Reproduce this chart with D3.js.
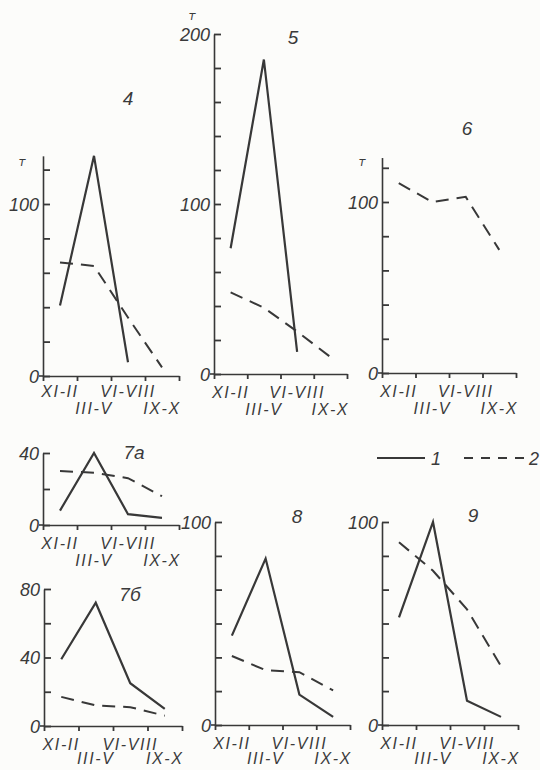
<!DOCTYPE html>
<html>
<head>
<meta charset="utf-8">
<script src="https://cdn.jsdelivr.net/npm/d3@7"></script>
<style>
  body { margin: 0; background: #fcfcfa; }
  svg text { font-family: "Liberation Sans Narrow", "Liberation Sans", sans-serif; font-style: italic; fill: #3a3a3a; }
</style>
</head>
<body>
<svg id="chart" width="540" height="770"></svg>
<script>
// categories (periods of the year)
var categories = ["XI-II", "III-V", "VI-VIII", "IX-X"];

// series 1 (solid) and 2 (dashed), tonnes
var p4Solid  = [41, 128, 8, null];
var p4Dashed = [66, 64, 34, 5];
var p5Solid  = [74, 185, 13, null];
var p5Dashed = [48, 39, 25, 10];
var p6Solid  = [null, null, null, null];
var p6Dashed = [111, 100, 103, 72];
var p7aSolid  = [8, 40, 6, 4];
var p7aDashed = [30, 29, 26, 16];
var p7bSolid  = [39, 72, 25, 10];
var p7bDashed = [17, 12, 11, 6];
var p8Solid  = [44, 82, 15, 4];
var p8Dashed = [34, 27, 26, 17];
var p9Solid  = [53, 100, 12, 4];
var p9Dashed = [90, 76, 57, 29];

// y ticks and labelled values
var ticks4 = [0, 20, 40, 60, 80, 100, 120],            labels4 = [0, 100];
var ticks5 = [0, 20, 40, 60, 80, 100, 120, 140, 160, 180, 200], labels5 = [0, 100, 200];
var ticks6 = [0, 20, 40, 60, 80, 100, 120],            labels6 = [0, 100];
var ticks7a = [0, 20, 40],                             labels7a = [0, 40];
var ticks7b = [0, 20, 40, 60, 80],                     labels7b = [0, 40, 80];
var ticks8 = [0, 16.7, 33.3, 50, 66.7, 83.3, 100],     labels8 = [0, 100];
var ticks9 = [0, 16.7, 33.3, 50, 66.7, 83.3, 100],     labels9 = [0, 100];

var ink = "#383838";
var svg = d3.select("#chart");

// layout: x0/x1 = x axis ends, y0 = zero line, ref = [value, px], top = axis top value,
// lab = centre offsets of the two rows of period labels
var panels = [
  {name:"4",  solid:p4Solid,  dashed:p4Dashed,  ticks:ticks4,  labels:labels4,  x0:43,  x1:179, y0:376, ref:[100,204], top:128, title:[128,105], unit:[22,166], lab:[15,32]},
  {name:"5",  solid:p5Solid,  dashed:p5Dashed,  ticks:ticks5,  labels:labels5,  x0:214, x1:347, y0:374, ref:[200,34],  top:200, title:[293,44],  unit:[192,20], lab:[18,35]},
  {name:"6",  solid:p6Solid,  dashed:p6Dashed,  ticks:ticks6,  labels:labels6,  x0:382, x1:516, y0:373, ref:[100,202], top:126, title:[467,135], unit:[362,166], lab:[18,35]},
  {name:"7а", solid:p7aSolid, dashed:p7aDashed, ticks:ticks7a, labels:labels7a, x0:43,  x1:179, y0:525, ref:[40,453],  top:40,  title:[134,459], unit:null, lab:[18,35]},
  {name:"7б", solid:p7bSolid, dashed:p7bDashed, ticks:ticks7b, labels:labels7b, x0:44,  x1:182, y0:726, ref:[80,589],  top:80,  title:[130,601], unit:null, lab:[18,32]},
  {name:"8",  solid:p8Solid,  dashed:p8Dashed,  ticks:ticks8,  labels:labels8,  x0:215, x1:350, y0:725, ref:[100,522], top:100, title:[297,523], unit:null, lab:[18,33]},
  {name:"9",  solid:p9Solid,  dashed:p9Dashed,  ticks:ticks9,  labels:labels9,  x0:382, x1:518, y0:725, ref:[100,522], top:100, title:[473,522], unit:null, lab:[18,33]}
];

panels.forEach(function(p){
  var g = svg.append("g");
  var k = (p.y0 - p.ref[1]) / p.ref[0];
  var y = d3.scaleLinear().domain([0, p.top]).range([p.y0, p.y0 - p.top * k]);
  var x = d3.scaleBand().domain(categories).range([p.x0, p.x1]);
  var xb = d3.scaleLinear().domain([0, categories.length]).range([p.x0, p.x1]);

  // y axis, ticks pointing inward
  var ya = g.append("g").attr("transform", "translate(" + p.x0 + ",0)")
    .call(d3.axisLeft(y).tickValues(p.ticks).tickSizeInner(-7).tickSizeOuter(0).tickPadding(4)
      .tickFormat(function(d){ return p.labels.indexOf(d) >= 0 ? d : ""; }));
  ya.selectAll("text").attr("font-size", 18).attr("fill", ink).attr("dy", "0.36em");

  // x axis, ticks at band edges
  var xa = g.append("g").attr("transform", "translate(0," + p.y0 + ")")
    .call(d3.axisBottom(xb).tickValues(d3.range(categories.length + 1)).tickSizeInner(5).tickSizeOuter(0).tickFormat(""));
  g.selectAll(".domain").attr("stroke", ink).attr("stroke-width", 1.6);
  g.selectAll(".tick line").attr("stroke", ink).attr("stroke-width", 1.8);

  // small stub of the x axis left of the origin
  g.append("line").attr("x1", p.x0 - 4).attr("x2", p.x0).attr("y1", p.y0).attr("y2", p.y0)
    .attr("stroke", ink).attr("stroke-width", 1.6);

  // staggered period labels
  g.selectAll(".cat").data(categories).enter().append("text")
    .attr("x", function(d){ return x(d) + x.bandwidth() / 2; })
    .attr("y", function(d, i){ return p.y0 + (i % 2 ? p.lab[1] : p.lab[0]) + 6; })
    .attr("text-anchor", "middle").attr("font-size", 16).attr("letter-spacing", 1.6)
    .text(function(d){ return d; });

  var line = d3.line()
    .defined(function(d){ return d != null; })
    .x(function(d, i){ return x(categories[i]) + x.bandwidth() / 2; })
    .y(function(d){ return y(d); });

  g.append("path").datum(p.solid).attr("d", line)
    .attr("fill", "none").attr("stroke", ink).attr("stroke-width", 2.2).attr("stroke-linejoin", "miter");
  g.append("path").datum(p.dashed).attr("d", line)
    .attr("fill", "none").attr("stroke", ink).attr("stroke-width", 2).attr("stroke-dasharray", "13,8");

  g.append("text").attr("x", p.title[0]).attr("y", p.title[1])
    .attr("text-anchor", "middle").attr("font-size", 19).text(p.name);
  if (p.unit) {
    g.append("text").attr("x", p.unit[0]).attr("y", p.unit[1])
      .attr("text-anchor", "middle").attr("font-size", 12)
      .style("font-family", "'DejaVu Sans', sans-serif").text("т");
  }
});

// legend
var lg = svg.append("g");
lg.append("line").attr("x1", 377).attr("x2", 425).attr("y1", 458).attr("y2", 458)
  .attr("stroke", ink).attr("stroke-width", 2.2);
lg.append("text").attr("x", 431).attr("y", 465).attr("font-size", 18).text("1");
lg.append("line").attr("x1", 464).attr("x2", 527).attr("y1", 458).attr("y2", 458)
  .attr("stroke", ink).attr("stroke-width", 2).attr("stroke-dasharray", "9,8");
lg.append("text").attr("x", 529).attr("y", 465).attr("font-size", 18).text("2");
</script>
</body>
</html>
